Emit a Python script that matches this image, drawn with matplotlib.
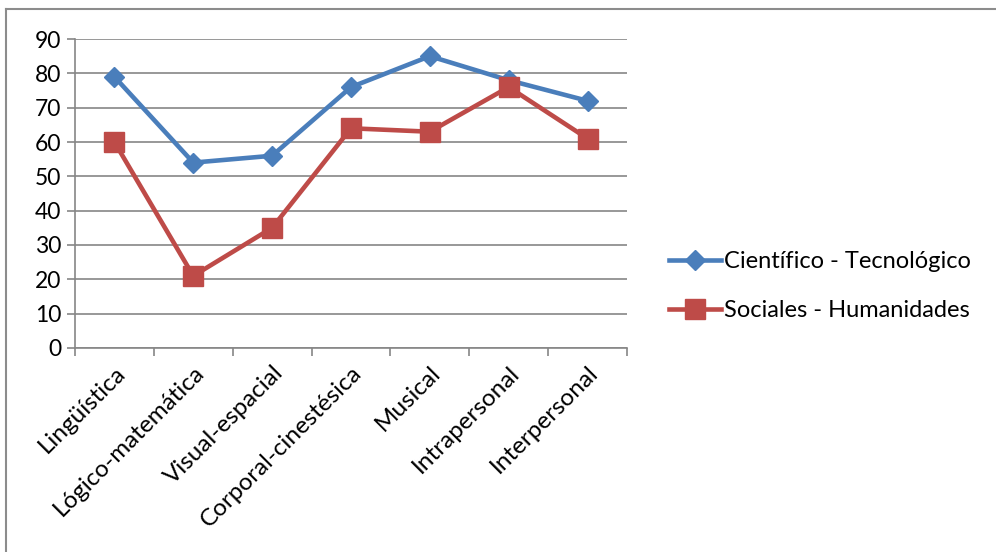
import matplotlib.pyplot as plt
from matplotlib.lines import Line2D

# datos
categorias = ['Lingüística', 'Lógico-matemática', 'Visual-espacial',
              'Corporal-cinestésica', 'Musical', 'Intrapersonal', 'Interpersonal']
cientifico = [79, 54, 56, 76, 85, 78, 72]
sociales = [60, 21, 35, 64, 63, 76, 61]
yticks = [0, 10, 20, 30, 40, 50, 60, 70, 80, 90]

plt.rcParams['font.family'] = ['Lato', 'DejaVu Sans']

fig = plt.figure(figsize=(9.96, 5.52), dpi=100)
ax = fig.add_axes([0.0753, 0.3696, 0.5542, 0.5597])

x = list(range(len(categorias)))
azul = '#4a7ebb'
rojo = '#be4b48'
ax.plot(x, cientifico, color=azul, lw=3.3, marker='D', ms=10,
        label='Científico - Tecnológico', zorder=3)
ax.plot(x, sociales, color=rojo, lw=3.3, marker='s', ms=14,
        label='Sociales - Humanidades', zorder=3)

ax.set_xlim(-0.5, len(categorias) - 0.5)
ax.set_ylim(0, 90)
ax.set_yticks(yticks)
ax.set_yticklabels([str(v) for v in yticks], fontsize=16.5)
ax.yaxis.grid(True, color='#868686', lw=1.2)
ax.set_axisbelow(True)

# ticks de categoria entre los puntos
ax.set_xticks([i - 0.5 for i in range(len(categorias) + 1)])
ax.set_xticklabels([])
ax.set_xticks(x, minor=True)
ax.set_xticklabels(categorias, minor=True, rotation=45, ha='right',
                   rotation_mode='anchor', fontsize=17.5)
ax.tick_params(axis='x', which='minor', length=0, pad=10)
ax.tick_params(axis='x', which='major', length=6, color='#868686', width=1.2)
ax.tick_params(axis='y', length=6, color='#868686', width=1.2, pad=4)

for s in ['top', 'right']:
    ax.spines[s].set_visible(False)
for s in ['left', 'bottom']:
    ax.spines[s].set_color('#868686')
    ax.spines[s].set_linewidth(1.2)

fig.legend(loc='center left', bbox_to_anchor=(0.65, 0.482), frameon=False,
           fontsize=17, handlelength=2.2, handletextpad=0.15, labelspacing=1.2)

# borde del area del grafico
fig.add_artist(Line2D([0.006, 1.0], [0.984, 0.984], color='#8c8c8c', lw=1.5))
fig.add_artist(Line2D([0.006, 0.006], [0.0, 0.984], color='#8c8c8c', lw=1.5))

fig.savefig('out.png', dpi=100)
